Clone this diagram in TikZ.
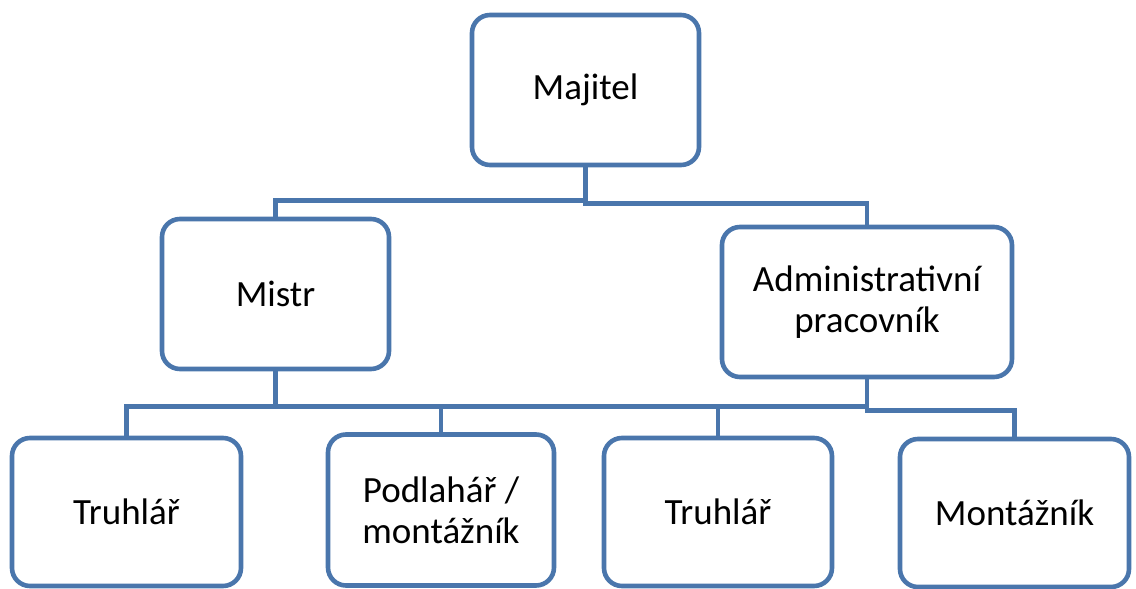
\documentclass[tikz,border=0pt]{standalone}
\usepackage{fontspec}
\setmainfont{Carlito}
\definecolor{boxblue}{RGB}{74,118,172}
\begin{document}
\begin{tikzpicture}[x=1pt,y=-1pt,
  orgbox/.style={draw=boxblue, line width=4.6pt, rounded corners=18pt, fill=white,
    align=center, inner sep=0pt,
    font=\fontsize{37}{41}\selectfont},
  conn/.style={draw=boxblue, line width=4.4pt}]
\useasboundingbox (0,0) rectangle (1136,589);
% nodes
\node[orgbox, minimum width=227pt, minimum height=150pt] (maj) at (585.5,90) {Majitel};
\node[orgbox, minimum width=227pt, minimum height=150pt] (mistr) at (275.5,294) {Mistr};
\node[orgbox, minimum width=290pt, minimum height=150pt] (admin) at (867,302) {Administrativní\\pracovník};
\node[orgbox, minimum width=229pt, minimum height=148pt] (t1) at (126.5,512) {Truhlář};
\node[orgbox, minimum width=226pt, minimum height=151pt] (pod) at (441,510) {Podlahář /\\montážník};
\node[orgbox, minimum width=228pt, minimum height=148pt] (t2) at (718,512) {Truhlář};
\node[orgbox, minimum width=229pt, minimum height=148pt] (mon) at (1014.5,513) {Montážník};
% connectors
\draw[conn] (maj.south) -- ++(0,33) -| (mistr.north);
\draw[conn] (maj.south) -- ++(0,36) -| (admin.north);
\draw[conn] (mistr.south) -- ++(0,35) -| (t1.north);
\draw[conn] (mistr.south) -- ++(0,35) -| (pod.north);
\draw[conn] (mistr.south) -- ++(0,35) -| (t2.north);
\draw[conn] (admin.south) -- ++(0,27) -| (t2.north);
\draw[conn] (admin.south) -- ++(0,31) -| (mon.north);
\end{tikzpicture}
\end{document}
